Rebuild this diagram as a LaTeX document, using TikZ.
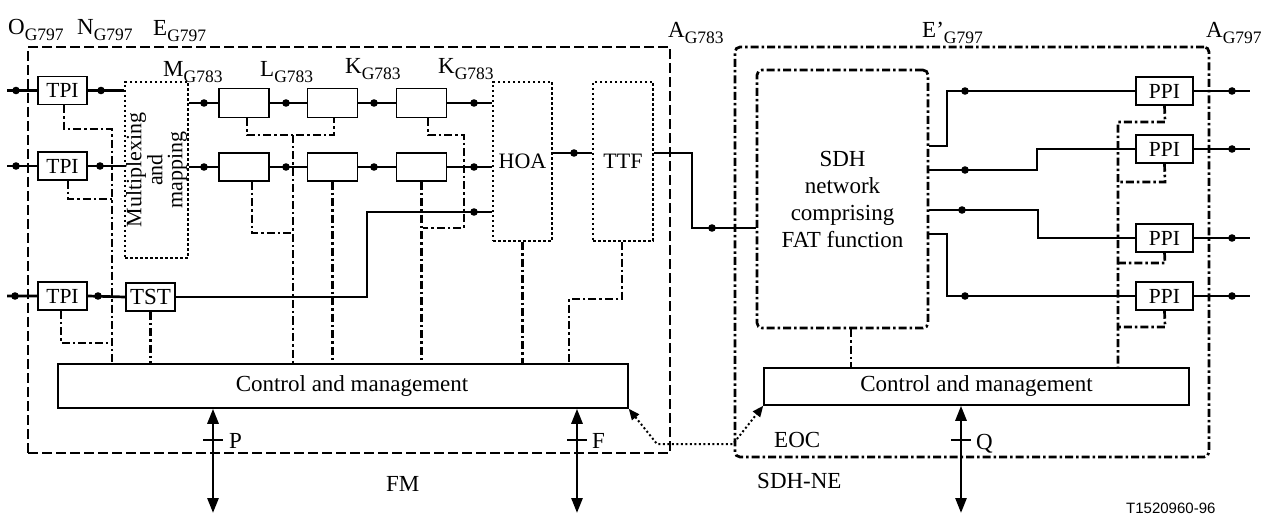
\documentclass[tikz,border=0pt]{standalone}
\usepackage{fontspec}
\setmainfont{Liberation Serif}
\setsansfont{Liberation Sans}
\usetikzlibrary{arrows.meta}
\newcommand\sbs[1]{\raisebox{-6pt}{\fontsize{17.5}{17.5}\selectfont #1}}
\begin{document}
\begin{tikzpicture}[x=1pt,y=-1pt,
  every node/.style={font=\fontsize{23}{27}\selectfont, inner sep=0pt},
  blk/.style={draw, line width=1.5pt, rectangle, inner sep=0pt},
  small/.style={font=\fontsize{21.5}{25}\selectfont},
  sig/.style={line width=2.7pt},
  thinsig/.style={line width=1.6pt},
  ctl/.style={line width=2.7pt, dash pattern=on 8pt off 3pt on 2.5pt off 3pt},
  dotbox/.style={draw, line width=2.5pt, dash pattern=on 2.5pt off 2.5pt},
  fmdash/.style={draw, line width=2.7pt, dash pattern=on 10pt off 4pt},
  nebox/.style={draw, line width=2.7pt, dash pattern=on 8pt off 3pt on 2.5pt off 3pt, rounded corners=5pt},
  dbl/.style={line width=2.7pt, {Triangle[length=15pt,width=11pt]}-{Triangle[length=15pt,width=11pt]}},
  eoc/.style={line width=2pt, dash pattern=on 2pt off 2.5pt, {Triangle[length=11pt,width=9pt]}-{Triangle[length=11pt,width=9pt]}}
]
\useasboundingbox (0,0) rectangle (1273,518);

% ---------- frames ----------
\node[fmdash, minimum width=642pt, minimum height=406pt] (fm) at (349,250) {};
\node[nebox, minimum width=474pt, minimum height=410pt] (ne) at (972,252) {};

% ---------- FM blocks ----------
\node[blk, small, minimum width=49pt, minimum height=28pt] (tpi1) at (62.5,90.5) {TPI};
\node[blk, small, minimum width=49pt, minimum height=28pt] (tpi2) at (62.5,166) {TPI};
\node[blk, small, minimum width=49pt, minimum height=28pt] (tpi3) at (62.5,296) {TPI};
\node[blk, minimum width=49pt, minimum height=28pt] (tst) at (150.5,297) {TST};
\node[dotbox, minimum width=63pt, minimum height=176pt] (mux) at (156.5,170) {};
\node[rotate=90, align=center, font=\fontsize{22}{20}\selectfont] (muxt) at (mux.center) {Multiplexing\\and\\mapping};

\node[blk, minimum width=50pt, minimum height=29pt] (r1a) at (244,103) {};
\node[blk, minimum width=50pt, minimum height=29pt] (r1b) at (332.5,103) {};
\node[blk, minimum width=50pt, minimum height=29pt] (r1c) at (421.5,103) {};
\node[blk, minimum width=50pt, minimum height=28pt] (r2a) at (244,167) {};
\node[blk, minimum width=50pt, minimum height=28pt] (r2b) at (332.5,167) {};
\node[blk, minimum width=50pt, minimum height=28pt] (r2c) at (421.5,167) {};

\node[dotbox, font=\fontsize{22}{26}\selectfont, minimum width=59pt, minimum height=159pt] (hoa) at (522.5,161.5) {HOA};
\node[dotbox, font=\fontsize{22}{26}\selectfont, minimum width=60pt, minimum height=159pt] (ttf) at (623,161.5) {TTF};

\node[blk, minimum width=570pt, minimum height=44pt] (fmc) at (343,386) {\hspace{18pt}Control and management};

% ---------- SDH-NE blocks ----------
\node[nebox, minimum width=171pt, minimum height=258pt, align=center,
      font=\fontsize{23}{27}\selectfont] (sdh) at (842.5,199) {SDH\\network\\comprising\\FAT function};
\node[blk, small, minimum width=57pt, minimum height=28pt] (ppi1) at (1164.5,91) {PPI};
\node[blk, small, minimum width=57pt, minimum height=28pt] (ppi2) at (1164.5,149) {PPI};
\node[blk, small, minimum width=57pt, minimum height=28pt] (ppi3) at (1164.5,238) {PPI};
\node[blk, small, minimum width=57pt, minimum height=28pt] (ppi4) at (1164.5,296) {PPI};
\node[blk, minimum width=425pt, minimum height=37pt] (sdhc) at (976.5,386.5) {Control and management\hspace{30pt}};

% ---------- free ends ----------
\coordinate (i1) at (7,90.5);
\coordinate (i2) at (7,166);
\coordinate (i3) at (7,296);
\coordinate (o1) at (1250,91);
\coordinate (o2) at (1250,149);
\coordinate (o3) at (1250,238);
\coordinate (o4) at (1250,296);

% ---------- signal paths (thick) ----------
\draw[sig] (i1) -- (tpi1.west) (tpi1.east) -- (tpi1.east -| mux.west);
\draw[sig] (i2) -- (tpi2.west) (tpi2.east) -- (tpi2.east -| mux.west);
\draw[sig] (i3) -- (tpi3.west) (tpi3.east) -- (tst.west);
\draw[sig] (mux.east |- r1a.west) -- (r1a.west) (r1a.east) -- (r1b.west) (r1b.east) -- (r1c.west) (r1c.east) -- (r1c.east -| hoa.west);
\draw[sig] (mux.east |- r2a.west) -- (r2a.west) (r2a.east) -- (r2b.west) (r2b.east) -- (r2c.west) (r2c.east) -- (r2c.east -| hoa.west);
\draw[sig] (hoa.east |- 0,153) -- (ttf.west |- 0,153);
\draw[sig] (ppi1.east) -- (o1) (ppi2.east) -- (o2) (ppi3.east) -- (o3) (ppi4.east) -- (o4);

\foreach \p in {(16,90.5),(101,90.5),(16,166),(100,166),(15,296),(98,296),
  (204,103),(286,103),(374,103),(474,103),(204,167),(286,167),(374,167),(474,167),
  (574,153),(474,212),(712,228),
  (965,91),(965,170),(962,210),(965,296),
  (1232,91),(1232,149),(1232,238),(1232,296)}
  \fill \p circle (3.8pt);

% ---------- signal paths (thin) ----------
\draw[thinsig] (tst.east) -- (367,297) -- (367,212) -- (hoa.west |- 0,212);
\draw[thinsig] (ttf.east |- 0,153) -- (692,153) -- (692,228) -- (sdh.west |- 0,228);
\draw[thinsig] (sdh.east |- 0,146) -- (947,146) -- (947,91) -- (ppi1.west);
\draw[thinsig] (sdh.east |- 0,170) -- (1037,170) -- (1037,149) -- (ppi2.west);
\draw[thinsig] (sdh.east |- 0,210) -- (1038,210) -- (1038,238) -- (ppi3.west);
\draw[thinsig] (sdh.east |- 0,234) -- (947,234) -- (947,296) -- (ppi4.west);

% ---------- control (dash-dot) ----------
\draw[ctl] (tpi1.south -| 64,0) -- (64,129) -- (112,129) -- (fmc.north -| 112,0);
\draw[ctl] (tpi2.south -| 68,0) -- (68,199) -- (112,199);
\draw[ctl] (tpi3.south -| 61,0) -- (61,343) -- (112,343);
\draw[ctl] (tst.south) -- (fmc.north -| tst.south);
\draw[ctl] (r1a.south -| 247,0) -- (247,135) -- (334,135) -- (r1b.south -| 334,0);
\draw[ctl] (293,135) -- (fmc.north -| 293,0);
\draw[ctl] (r2a.south -| 252,0) -- (252,233) -- (293,233);
\draw[ctl] (r2b.south) -- (fmc.north -| r2b.south);
\draw[ctl] (r1c.south -| 428,0) -- (428,135) -- (464,135) -- (464,228) -- (423,228);
\draw[ctl] (r2c.south) -- (fmc.north -| r2c.south);
\draw[ctl] (hoa.south) -- (fmc.north -| hoa.south);
\draw[ctl] (ttf.south -| 622,0) -- (622,299) -- (569,299) -- (fmc.north -| 569,0);
\draw[ctl] (sdh.south -| 851,0) -- (sdhc.north -| 851,0);
\draw[ctl] (ppi1.south) -- (1165,122) -- (1118,122) -- (sdhc.north -| 1118,0);
\draw[ctl] (ppi2.south) -- (1165,182) -- (1118,182);
\draw[ctl] (ppi3.south) -- (1165,263) -- (1118,263);
\draw[ctl] (ppi4.south) -- (1165,327) -- (1118,327);

% ---------- management interfaces ----------
\coordinate (pend) at (213,513);
\coordinate (fend) at (577,513);
\coordinate (qend) at (961,513);
\draw[dbl] (fmc.south -| pend) -- (pend);
\draw[dbl] (fmc.south -| fend) -- (fend);
\draw[dbl] (sdhc.south -| qend) -- (qend);
\draw[line width=2.7pt] (203,440) -- (223,440) (567,440) -- (587,440) (951,440) -- (971,440);
\draw[eoc] (fmc.south east) -- (657,444) -- (733,444) -- (sdhc.south west);

% ---------- labels ----------
\node[anchor=base west] (lO) at (8,35) {O\sbs{G797}};
\node[anchor=base west] (lN) at (77,35) {N\sbs{G797}};
\node[anchor=base west] (lE) at (153,36) {E\sbs{G797}};
\node[anchor=base west] (lM) at (163,77) {M\sbs{G783}};
\node[anchor=base west] (lL) at (260,77) {L\sbs{G783}};
\node[anchor=base west] (lK1) at (345,74) {K\sbs{G783}};
\node[anchor=base west] (lK2) at (438,74) {K\sbs{G783}};
\node[anchor=base west] (lA1) at (668,38) {A\sbs{G783}};
\node[anchor=base west] (lE2) at (922,38) {E’\sbs{G797}};
\node[anchor=base west] (lA2) at (1206,38) {A\sbs{G797}};
\node[anchor=base west] (lP) at (229,448) {P};
\node[anchor=base west] (lF) at (592,448) {F};
\node[anchor=base west] (lQ) at (976,449) {Q};
\node[anchor=base west] (lEOC) at (774,447) {EOC};
\node[anchor=base west] (lFM) at (386,491) {FM};
\node[anchor=base west] (lNE) at (757,488) {SDH-NE};
\node[anchor=base west, font=\sffamily\fontsize{15}{15}\selectfont] (ltag) at (1126,513) {T1520960-96};
\end{tikzpicture}
\end{document}
